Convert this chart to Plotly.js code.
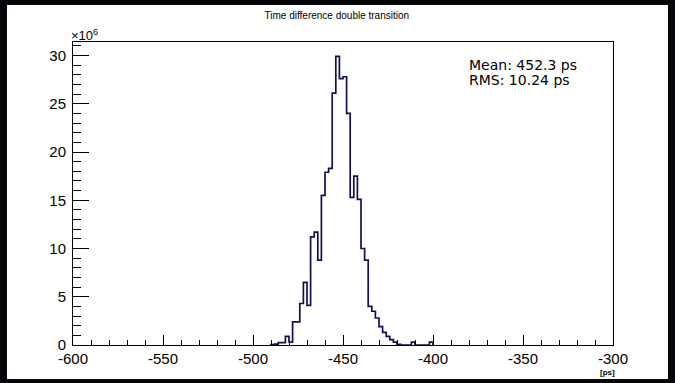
<!DOCTYPE html>
<html><head><meta charset="utf-8">
<script src="https://cdn.plot.ly/plotly-3.0.1.min.js"></script>
<style>
html,body{margin:0;padding:0;background:#06060a;width:675px;height:383px;overflow:hidden}
#chart{position:absolute;left:7px;top:5px;width:661px;height:374px}
</style></head>
<body><div id="chart"></div>
<script>
// ---- data (counts in units of 10^6) ----
const binStart = -490;
const binWidth = 2;
const counts = [0.05, 0.1, 0.25, 0.25, 0.9, 0.3, 2.4, 2.4, 4.3, 6.5,
                4.1, 11.2, 11.7, 8.8, 15.5, 17.9, 18.3, 26.1, 29.9, 27.6,
                27.8, 24.0, 15.3, 17.5, 15.1, 10.0, 8.8, 4.0, 3.5, 2.8,
                1.9, 1.3, 0.9, 0.55, 0.3, 0.08, 0, 0, 0, 0.3,
                0, 0, 0, 0, 0.3];
const xTickVals = [-600, -550, -500, -450, -400, -350, -300];
const xTickText = ['-600', '-550', '-500', '-450', '-400', '-350', '-300'];
const yTickVals = [0, 5, 10, 15, 20, 25, 30];
const yTickText = ['0', '5', '10', '15', '20', '25', '30'];
const titleText = 'Time difference double transition';
const statsLines = ['Mean: 452.3 ps', 'RMS: 10.24 ps'];
const xUnit = '[ps]';
const yExponent = '×10<sup>6</sup>';

// ---- step outline built from the bins ----
const xs = [binStart], ys = [0];
counts.forEach((c, i) => { xs.push(binStart + i * binWidth); ys.push(c); });
const binEnd = binStart + counts.length * binWidth;
xs.push(binEnd); ys.push(counts[counts.length - 1]);
xs.push(binEnd); ys.push(0);

const trace = {
  type: 'scatter', mode: 'lines', x: xs, y: ys,
  line: {shape: 'hv', color: '#10104e', width: 1.7},
  hoverinfo: 'skip', cliponaxis: true
};

const tickFont = {family: 'Liberation Sans, Arial, sans-serif', size: 15, color: '#000'};
const layout = {
  width: 661, height: 374,
  margin: {l: 66, r: 55, t: 37, b: 34, pad: 0},
  paper_bgcolor: '#ffffff', plot_bgcolor: '#ffffff',
  showlegend: false,
  title: {text: titleText, x: 0.499, xref: 'container', y: 0.973, yref: 'container',
          xanchor: 'center', yanchor: 'middle',
          font: {family: 'Liberation Sans, Arial, sans-serif', size: 10, color: '#000'}},
  xaxis: {
    range: [-600, -300], tickmode: 'array', tickvals: xTickVals, ticktext: xTickText,
    ticks: 'inside', ticklen: 10, tickwidth: 1, tickcolor: '#000',
    minor: {tickmode: 'linear', tick0: -600, dtick: 10, ticks: 'inside', ticklen: 5, tickwidth: 1, tickcolor: '#000'},
    showline: true, linecolor: '#000', linewidth: 1, mirror: true,
    showgrid: false, zeroline: false, tickfont: tickFont, ticklabelstandoff: 0
  },
  yaxis: {
    range: [0, 31.4], tickmode: 'array', tickvals: yTickVals, ticktext: yTickText,
    ticks: 'inside', ticklen: 16, tickwidth: 1, tickcolor: '#000',
    minor: {tickmode: 'linear', tick0: 0, dtick: 1, ticks: 'inside', ticklen: 8, tickwidth: 1, tickcolor: '#000'},
    showline: true, linecolor: '#000', linewidth: 1, mirror: true,
    showgrid: false, zeroline: false, tickfont: tickFont, ticklabelstandoff: 3
  },
  annotations: [
    {text: yExponent, xref: 'paper', yref: 'paper', x: -0.008, y: 1.022, xanchor: 'left', yanchor: 'middle',
     showarrow: false, font: {family: 'Liberation Sans, Arial, sans-serif', size: 13, color: '#000'}},
    {text: statsLines[0], xref: 'paper', yref: 'paper', x: 0.729, y: 0.925, xanchor: 'left', yanchor: 'middle',
     showarrow: false, font: {family: 'DejaVu Sans, sans-serif', size: 14, color: '#000'}},
    {text: statsLines[1], xref: 'paper', yref: 'paper', x: 0.729, y: 0.874, xanchor: 'left', yanchor: 'middle',
     showarrow: false, font: {family: 'DejaVu Sans, sans-serif', size: 14, color: '#000'}},
    {text: '<b>' + xUnit + '</b>', xref: 'paper', yref: 'paper', x: 0.99, y: -0.092, xanchor: 'center', yanchor: 'middle',
     showarrow: false, font: {family: 'Liberation Sans, Arial, sans-serif', size: 8, color: '#000'}}
  ]
};

Plotly.newPlot('chart', [trace], layout, {staticPlot: true, displayModeBar: false});
</script>
</body></html>
